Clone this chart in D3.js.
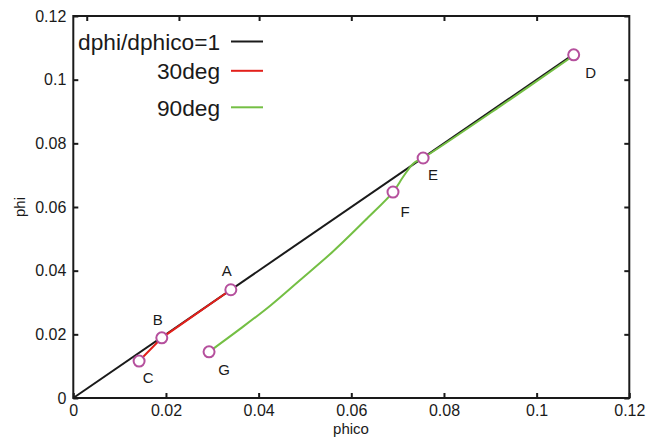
<!DOCTYPE html>
<html>
<head>
<meta charset="utf-8">
<script src="https://cdn.jsdelivr.net/npm/d3@7"></script>
<style>
  html, body { margin: 0; padding: 0; background: #fff; }
  svg { display: block; }
  text { font-family: "Liberation Sans", Arial, Helvetica, sans-serif; fill: #1a1a1a; }
</style>
</head>
<body>
<svg id="chart" width="650" height="437"></svg>
<script>
// ---- data ----
const xTicks = [0, 0.02, 0.04, 0.06, 0.08, 0.1, 0.12];
const yTicks = [0, 0.02, 0.04, 0.06, 0.08, 0.1, 0.12];
const xTopTicks = [0.0029, 0.0228, 0.0401, 0.06, 0.08, 0.1];
const xTickLabels = ["0", "0.02", "0.04", "0.06", "0.08", "0.1", "0.12"];
const yTickLabels = ["0", "0.02", "0.04", "0.06", "0.08", "0.1", "0.12"];

const seriesNames = ["dphi/dphico=1", "30deg", "90deg"];
const seriesColors = ["#1a1a1a", "#e3201b", "#74bf44"];

const unityX = [0, 0.1075];
const unityY = [0, 0.1075];

const deg30X = [0.0142, 0.0191, 0.0340];
const deg30Y = [0.0116, 0.0189, 0.0340];

const deg90X = [0.0293, 0.0360, 0.0425, 0.0489, 0.0561, 0.0634, 0.0690, 0.0712, 0.0734, 0.0755, 0.0921, 0.1080];
const deg90Y = [0.0145, 0.0217, 0.0290, 0.0370, 0.0461, 0.0564, 0.0647, 0.0695, 0.0737, 0.0754, 0.0916, 0.1076];

const pointLabels = ["A", "B", "C", "D", "E", "F", "G"];
const pointX = [0.0340, 0.0191, 0.0142, 0.1080, 0.0755, 0.0690, 0.0293];
const pointY = [0.0340, 0.0189, 0.0116, 0.1078, 0.0754, 0.0647, 0.0145];

// ---- layout ----
const svg = d3.select("#chart");
const plotL = 73.3, plotR = 629.3, plotT = 16, plotB = 398;

const x = d3.scaleLinear().domain([0, 0.12]).range([plotL, plotR]);
const y = d3.scaleLinear().domain([0, 0.12]).range([plotB, plotT]);

const tickFont = "16px";

// axes
const gx = svg.append("g").attr("transform", `translate(0,${plotB})`)
  .call(d3.axisBottom(x).tickValues(xTicks).tickFormat((d, i) => xTickLabels[i])
    .tickSizeInner(-5).tickSizeOuter(0).tickPadding(7));
const gy = svg.append("g").attr("transform", `translate(${plotL},0)`)
  .call(d3.axisLeft(y).tickValues(yTicks).tickFormat((d, i) => yTickLabels[i])
    .tickSizeInner(-5).tickSizeOuter(0).tickPadding(7));
const gxt = svg.append("g").attr("transform", `translate(0,${plotT})`)
  .call(d3.axisTop(x).tickValues(xTopTicks).tickFormat("")
    .tickSizeInner(-5).tickSizeOuter(0));
const gyr = svg.append("g").attr("transform", `translate(${plotR},0)`)
  .call(d3.axisRight(y).tickValues(yTicks).tickFormat("")
    .tickSizeInner(-5).tickSizeOuter(0));

[gx, gy, gxt, gyr].forEach(g => {
  g.select(".domain").remove();
  g.selectAll(".tick line").attr("stroke", "#1a1a1a").attr("stroke-width", 2);
  g.selectAll(".tick text").style("font-size", tickFont).attr("fill", "#1a1a1a")
    .style("font-family", "'Liberation Sans', Arial, sans-serif");
});

// frame
svg.append("rect")
  .attr("x", plotL).attr("y", plotT)
  .attr("width", plotR - plotL).attr("height", plotB - plotT)
  .attr("fill", "none").attr("stroke", "#1a1a1a").attr("stroke-width", 2);

// axis titles
svg.append("text").attr("x", 351).attr("y", 434)
  .attr("text-anchor", "middle").style("font-size", "15px").text("phico");
svg.append("text").attr("transform", "translate(25,207) rotate(-90)")
  .attr("text-anchor", "middle").style("font-size", "15px").text("phi");

// lines
const line = d3.line().x(d => x(d[0])).y(d => y(d[1]));
const curve = d3.line().x(d => x(d[0])).y(d => y(d[1])).curve(d3.curveCatmullRom.alpha(0.5));

const zip = (a, b) => a.map((v, i) => [v, b[i]]);

svg.append("path").datum(zip(unityX, unityY)).attr("d", line)
  .attr("fill", "none").attr("stroke", seriesColors[0]).attr("stroke-width", 2);
svg.append("path").datum(zip(deg90X, deg90Y)).attr("d", curve)
  .attr("fill", "none").attr("stroke", seriesColors[2]).attr("stroke-width", 2);
svg.append("path").datum(zip(deg30X, deg30Y)).attr("d", line)
  .attr("fill", "none").attr("stroke", seriesColors[1]).attr("stroke-width", 2);

// points
const pts = pointLabels.map((l, i) => ({ l, x: pointX[i], y: pointY[i] }));
svg.selectAll("circle.pt").data(pts).join("circle").attr("class", "pt")
  .attr("cx", d => x(d.x)).attr("cy", d => y(d.y)).attr("r", 5.5)
  .attr("fill", "#fff").attr("stroke", "#b5509d").attr("stroke-width", 2);

// point labels
const labelOffsets = { A: [-4, -14], B: [-4, -13], C: [9, 22], D: [17, 23], E: [10, 22], F: [12, 25], G: [15, 23] };
svg.selectAll("text.pl").data(pts).join("text").attr("class", "pl")
  .attr("x", d => x(d.x) + labelOffsets[d.l][0])
  .attr("y", d => y(d.y) + labelOffsets[d.l][1])
  .attr("text-anchor", "middle").style("font-size", "15px").text(d => d.l);

// legend
const legendRowsY = [41.5, 70.8, 107.3];
const lg = svg.append("g");
seriesNames.forEach((name, i) => {
  lg.append("text").attr("x", 220).attr("y", legendRowsY[i] + 8.5)
    .attr("text-anchor", "end").style("font-size", "22.7px").text(name);
  lg.append("line").attr("x1", 231).attr("x2", 263)
    .attr("y1", legendRowsY[i]).attr("y2", legendRowsY[i])
    .attr("stroke", seriesColors[i]).attr("stroke-width", 2);
});
</script>
</body>
</html>
